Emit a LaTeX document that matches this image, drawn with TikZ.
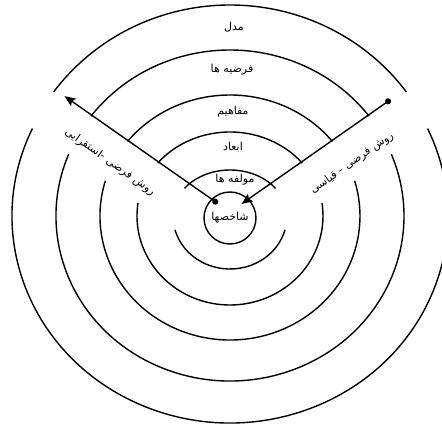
\documentclass[tikz,border=0pt]{standalone}
\usepackage{fontspec}
\usetikzlibrary{arrows.meta,calc}
\newfontfamily\farsifont[Script=Arabic]{DejaVu Sans}
\TeXXeTstate=1
\newcommand{\fa}[1]{\farsifont\beginR #1\endR}
\tikzset{
  ring/.style={line width=1.4pt},
  layer/.style={font=\fontsize{11}{13}\selectfont, inner sep=1pt},
  method/.style={line width=1.4pt,
    {Circle[length=6pt]}-{Stealth[length=11pt,width=9pt,inset=2pt]}},
}

\begin{document}
\begin{tikzpicture}[x=1pt,y=1pt]
  \useasboundingbox (0,0) rectangle (442,426);
  \coordinate (c) at (230,210);
  \coordinate (o) at (230,214);
  % rings: x radius, top y radius, bottom y radius, top arc start, bottom arc start
  \foreach \rx/\rtop/\rbot/\ta/\ba in {
      57/46/53/37/195,
      93/84/89/39/171.5,
      130/121/124/38/163.5,
      174/166/165/37/158,
      218/211/207/36/155} {
    \pgfmathsetmacro\tb{180-\ta}
    \pgfmathsetmacro\bb{540-\ba}
    \draw[ring] (c) ++({\ta}:{\rx} and {\rtop})
      arc[start angle=\ta, end angle=\tb, x radius=\rx, y radius=\rtop];
    \draw[ring] (c) ++({\ba}:{\rx} and {\rbot})
      arc[start angle=\ba, end angle=\bb, x radius=\rx, y radius=\rbot];
  }
  % layer names, outside in
  \node[layer] (model) at (234,399) {\fa{مدل}};
  \node[layer] (hyp) at (232,356) {\fa{فرضیه ها}};
  \node[layer] (concept) at (233,314) {\fa{مفاهیم}};
  \node[layer] (dim) at (233,279) {\fa{ابعاد}};
  \node[layer] (comp) at (235,246) {\fa{مولفه ها}};
  \node[layer,draw,circle,ring,minimum size=52pt,inner sep=0pt] (core) at (230,208) {\fa{شاخصها}};
  % the two methods
  \coordinate (indStart) at ($(o)+(145:15)$);
  \coordinate (indEnd) at ($(o)+(145:202)$);
  \coordinate (dedStart) at ($(o)+(35:196)$);
  \coordinate (dedEnd) at ($(o)+(35:14)$);
  \draw[method] (indStart) -- (indEnd);
  \draw[method] (dedStart) -- (dedEnd);
  \node[layer,rotate=-35] (induct) at (110,264) {\fa{روش فرضی -استقرایی}};
  \node[layer,rotate=35] (deduct) at (352,263) {\fa{روش فرضی - قیاسی}};
\end{tikzpicture}
\end{document}
